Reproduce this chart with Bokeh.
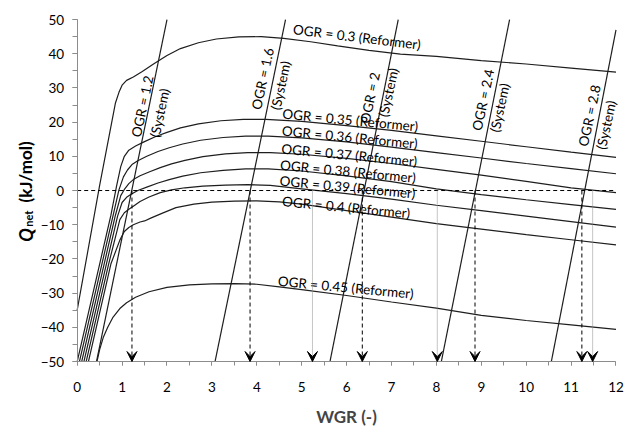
from bokeh.plotting import figure
from bokeh.models import Range1d, SingleIntervalTicker, Arrow, VeeHead
from bokeh.embed import file_html
from bokeh.resources import INLINE
from bokeh.core.properties import value

# ---------------- data ----------------
ogr_labels = ["0.3", "0.35", "0.36", "0.37", "0.38", "0.39", "0.4", "0.45"]

wgr_03 = [0.0, 0.5, 0.85, 0.93, 1.0, 1.1, 1.25, 1.45, 1.7, 2.0, 2.3, 2.7, 3.1, 3.6, 4.1, 4.6, 5.2, 5.8, 6.5, 7.2, 8.0, 9.0, 10.0, 11.0, 12.0]
q_03 = [-35.0, 1.5, 25.5, 28.7, 30.8, 32.2, 33.2, 34.8, 37.0, 39.5, 41.5, 43.2, 44.3, 44.9, 45.0, 44.5, 43.5, 42.3, 41.0, 39.9, 39.2, 38.0, 37.0, 35.8, 34.6]

wgr_035 = [0.0, 0.5, 0.75, 0.88, 0.97, 1.05, 1.15, 1.3, 1.5, 1.75, 2.0, 2.3, 2.7, 3.2, 3.7, 4.2, 5.0, 6.0, 7.0, 8.0, 9.0, 10.0, 11.0, 12.0]
q_035 = [-50.0, -21.5, -7.3, 1.5, 7.0, 10.0, 11.8, 13.0, 14.3, 15.8, 17.0, 18.3, 19.5, 20.4, 20.8, 20.8, 20.2, 19.0, 17.6, 16.0, 14.4, 12.8, 11.2, 9.7]

wgr_036 = [0.05, 0.55, 0.8, 0.93, 1.03, 1.12, 1.22, 1.35, 1.55, 1.8, 2.05, 2.35, 2.75, 3.25, 3.75, 4.25, 5.0, 6.0, 7.0, 8.0, 9.0, 10.0, 11.0, 12.0]
q_036 = [-50.0, -21.5, -7.3, 0.2, 4.0, 6.0, 7.6, 8.7, 10.0, 11.4, 12.5, 13.6, 14.7, 15.5, 15.9, 15.9, 15.4, 14.2, 12.7, 11.1, 9.5, 7.9, 6.4, 4.9]

wgr_037 = [0.1, 0.6, 0.85, 0.97, 1.06, 1.15, 1.25, 1.4, 1.6, 1.85, 2.1, 2.4, 2.8, 3.3, 3.8, 4.3, 5.0, 6.0, 7.0, 8.0, 9.0, 10.0, 11.0, 12.0]
q_037 = [-50.0, -21.5, -7.3, -1.5, 0.5, 2.0, 3.2, 4.3, 5.4, 6.7, 7.8, 8.8, 9.9, 10.7, 11.1, 11.1, 10.6, 9.4, 7.9, 6.2, 4.5, 2.7, 0.8, -0.6]

wgr_038 = [0.15, 0.65, 0.9, 1.0, 1.1, 1.2, 1.35, 1.55, 1.8, 2.05, 2.35, 2.75, 3.25, 3.75, 4.25, 5.0, 6.0, 7.0, 8.0, 9.0, 10.0, 11.0, 12.0]
q_038 = [-50.0, -21.5, -7.5, -3.5, -2.0, -1.1, 0.0, 1.0, 2.2, 3.2, 4.2, 5.2, 5.9, 6.3, 6.3, 5.7, 4.3, 2.6, 0.5, -1.2, -2.7, -4.1, -5.5]

wgr_039 = [0.2, 0.7, 0.95, 1.05, 1.15, 1.25, 1.4, 1.6, 1.85, 2.1, 2.4, 2.8, 3.3, 3.8, 4.3, 5.0, 6.0, 7.0, 8.0, 9.0, 10.0, 11.0, 12.0]
q_039 = [-50.0, -21.5, -8.5, -6.5, -5.5, -4.6, -3.2, -1.9, -0.6, 0.2, 0.8, 1.3, 1.6, 1.7, 1.5, 0.5, -0.9, -2.5, -4.3, -5.9, -7.5, -9.1, -10.7]

wgr_04 = [0.25, 0.75, 0.95, 1.05, 1.15, 1.25, 1.4, 1.5, 1.65, 1.9, 2.2, 2.6, 3.0, 3.5, 4.0, 4.5, 5.0, 6.0, 7.0, 8.0, 9.0, 10.0, 11.0, 12.0]
q_04 = [-50.0, -21.5, -14.5, -12.0, -10.8, -10.0, -9.2, -8.9, -8.0, -6.6, -5.0, -4.0, -3.4, -3.1, -3.0, -3.3, -4.0, -5.9, -7.8, -9.7, -11.3, -12.9, -14.4, -15.9]

wgr_045 = [0.44, 0.5, 0.58, 0.68, 0.8, 0.95, 1.1, 1.3, 1.6, 2.0, 2.5, 3.0, 3.5, 4.0, 4.5, 5.0, 6.0, 7.0, 8.0, 9.0, 10.0, 11.0, 12.0]
q_045 = [-50.0, -46.5, -43.0, -40.0, -37.0, -34.5, -32.8, -31.2, -29.6, -28.3, -27.6, -27.3, -27.2, -27.4, -28.2, -29.0, -30.7, -32.6, -34.4, -36.5, -38.0, -39.3, -40.6]

# system lines (OGR of the whole system)
sys_ogr = ["1.2", "1.6", "2", "2.4", "2.8"]
sys_wgr_start = [0.43, 3.07, 5.63, 8.11, 10.56]
sys_q_start = [-50.0, -50.0, -50.0, -50.0, -50.0]
sys_wgr_end = [2.0, 4.64, 7.15, 9.63, 12.0]
sys_q_end = [50.0, 50.0, 50.0, 50.0, 47.0]

# Q = 0 reference line
zero_wgr = [0.0, 12.0]
zero_q = [0.0, 0.0]

# thermo-neutral WGR values (arrows)
neutral_system_wgr = [1.22, 3.85, 6.35, 8.86, 11.24]
neutral_reformer_wgr = [5.24, 8.02, 11.48]

x_min, x_max = 0, 12
y_min, y_max = -50, 50
x_ticks_interval = 1
y_ticks_interval = 10

# ---------------- figure ----------------
# The frame covers the whole canvas; both axes are fixed at the data origin
# corner (0, -50) and bounded to the data ranges.
p = figure(width=626, height=426, output_backend="svg", toolbar_location=None,
           x_range=Range1d(-1.708, 12.234), y_range=Range1d(-69.0, 55.56),
           min_border_left=0, min_border_right=0, min_border_top=0, min_border_bottom=0)
p.grid.visible = False
p.outline_line_color = None

LINE = "#1e1e1e"
reformer = [(wgr_03, q_03), (wgr_035, q_035), (wgr_036, q_036), (wgr_037, q_037),
            (wgr_038, q_038), (wgr_039, q_039), (wgr_04, q_04), (wgr_045, q_045)]
for xs, ys in reformer:
    p.line(xs, ys, line_color=LINE, line_width=1.2)

for x0, y0, x1, y1 in zip(sys_wgr_start, sys_q_start, sys_wgr_end, sys_q_end):
    p.line([x0, x1], [y0, y1], line_color=LINE, line_width=1.2)

p.line(zero_wgr, zero_q, line_color="black", line_width=1, line_dash="4 3")

for xv in neutral_system_wgr:
    p.add_layout(Arrow(end=VeeHead(size=10, fill_color="black", line_color="black", line_width=1),
                       x_start=xv, y_start=0, x_end=xv, y_end=y_min,
                       line_color="black", line_width=1, line_dash="4 3"))
for xv in neutral_reformer_wgr:
    p.add_layout(Arrow(end=VeeHead(size=10, fill_color="black", line_color="black", line_width=1),
                       x_start=xv, y_start=0, x_end=xv, y_end=y_min,
                       line_color="#8a8a8a", line_width=1, line_dash="1 1"))

# curve labels
FONT = "Lato"
ref_lx = [6.23, 6.08, 6.07, 6.06, 6.03, 6.02, 5.99, 5.98]
ref_ly = [44.9, 20.6, 15.6, 10.4, 5.6, 1.0, -4.9, -28.3]
ref_ang = [-7.0, -5.5, -5.5, -5.5, -5.5, -5.5, -5.5, -5.5]
ref_txt = ["OGR = %s (Reformer)" % o for o in ogr_labels]
p.text(x=ref_lx, y=ref_ly, text=ref_txt, angle=ref_ang, angle_units="deg",
       text_align="center", text_baseline="middle", text_font=value(FONT),
       text_font_size="13.5px", text_color="black")

sys_lx1 = [1.45, 4.13, 6.52, 9.04, 11.41]
sys_ly1 = [24.6, 32.7, 27.1, 26.5, 21.9]
sys_lx2 = [1.84, 4.53, 6.93, 9.41, 11.78]
sys_ly2 = [22.7, 30.7, 28.7, 24.2, 19.2]
p.text(x=sys_lx1, y=sys_ly1, text=["OGR = %s" % o for o in sys_ogr], angle=78, angle_units="deg",
       text_align="center", text_baseline="middle", text_font=value(FONT),
       text_font_size="13.5px", text_color="black")
p.text(x=sys_lx2, y=sys_ly2, text=["(System)"] * len(sys_ogr), angle=78, angle_units="deg",
       text_align="center", text_baseline="middle", text_font=value(FONT),
       text_font_size="13.5px", text_color="black")

# axes
xa = p.xaxis[0]
ya = p.yaxis[0]
xa.bounds = (x_min, x_max)
ya.bounds = (y_min, y_max)
xa.fixed_location = y_min
ya.fixed_location = x_min
for ax, interval in ((xa, x_ticks_interval), (ya, y_ticks_interval)):
    ax.ticker = SingleIntervalTicker(interval=interval, num_minor_ticks=2)
    ax.axis_line_color = "#8c8c8c"
    ax.major_tick_line_color = "#8c8c8c"
    ax.minor_tick_line_color = "#8c8c8c"
    ax.major_tick_in = 0
    ax.minor_tick_in = 0
    ax.major_label_text_font = FONT
    ax.major_label_text_font_size = "13.5px"
    ax.major_label_text_color = "black"

xa.major_tick_out = 4
xa.minor_tick_out = 4
ya.major_tick_out = 5
ya.minor_tick_out = 5
xa.major_label_standoff = 16
ya.major_label_standoff = 8

xa.axis_label = "WGR (-)"
xa.axis_label_text_font = FONT
xa.axis_label_text_font_style = "bold"
xa.axis_label_text_font_size = "17px"
xa.axis_label_standoff = 11

# y-axis title  Q_net (kJ/mol), drawn as text pieces
p.text(x=[-1.151], y=[-15.0], text=["Q"], angle=90, angle_units="deg",
       text_align="left", text_baseline="alphabetic", text_font=value(FONT),
       text_font_style="bold italic", text_font_size="18px", text_color="black")
p.text(x=[-1.084], y=[-10.6], text=["net"], angle=90, angle_units="deg",
       text_align="left", text_baseline="alphabetic", text_font=value(FONT),
       text_font_style="bold", text_font_size="11px", text_color="black")
p.text(x=[-1.151], y=[-3.5], text=["(kJ/mol)"], angle=90, angle_units="deg",
       text_align="left", text_baseline="alphabetic", text_font=value(FONT),
       text_font_style="bold", text_font_size="17px", text_color="black")

open("out.html", "w").write(file_html(p, INLINE))
